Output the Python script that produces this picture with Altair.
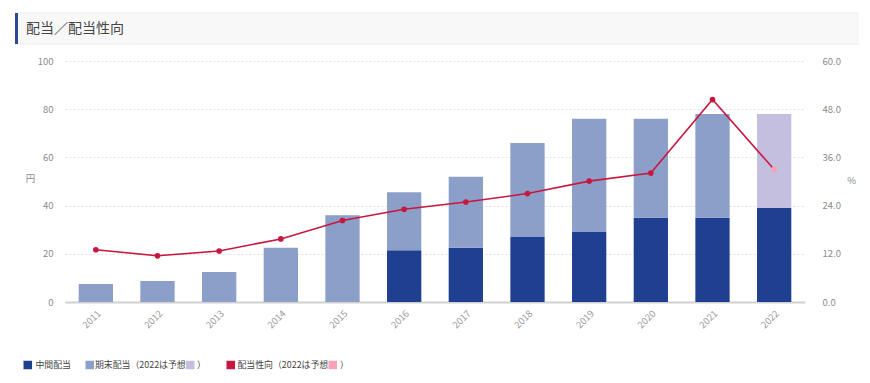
import altair as alt
import pandas as pd

# ---- data ----
years = [str(y) for y in range(2011, 2023)]
interim = [0, 0, 0, 0, 0, 21.5, 22.5, 27, 29, 35, 35, 39]          # 中間配当 (円)
year_end = [7.5, 8.75, 12.5, 22.5, 36, 24, 29.5, 39, 47, 41, 43, 39]  # 期末配当 (円)
payout = [13.0, 11.5, 12.7, 15.7, 20.3, 23.1, 24.9, 27.0, 30.1, 32.1, 50.4, 33.0]  # 配当性向 (%)
forecast_year = "2022"
left_ticks = [0, 20, 40, 60, 80, 100]
right_ticks = [0, 12, 24, 36, 48, 60]

FONT = "Noto Sans CJK JP"
C_INTERIM = "#1f3f91"
C_YEAREND = "#8c9fc9"
C_FORECAST = "#c4bfdf"
C_LINE = "#c8173f"
C_PINK = "#f6a3b8"
C_LABEL = "#8a8a8a"

rows = []
for y, a, b in zip(years, interim, year_end):
    rows.append({"year": y, "kind": "中間配当", "value": a, "ord": 0})
    rows.append({"year": y, "kind": "期末配当（予想）" if y == forecast_year else "期末配当",
                 "value": b, "ord": 1})
bars_df = pd.DataFrame(rows)
line_df = pd.DataFrame({"year": years, "payout": payout})

x_enc = alt.X(
    "year:N", sort=years,
    scale=alt.Scale(paddingInner=0.444, paddingOuter=0.222),
    axis=alt.Axis(title=None, labelAngle=-45, labelColor="#999999", labelFontSize=9.5,
                  labelFont=FONT, labelPadding=6, ticks=False, domainColor="#d0d0d0",
                  domainWidth=2, grid=False),
)

bars = alt.Chart(bars_df).mark_bar().encode(
    x=x_enc,
    y=alt.Y("value:Q", stack="zero", scale=alt.Scale(domain=[0, 100]),
            axis=alt.Axis(values=left_ticks, title="円", titleAngle=0, titleX=-35, titleY=117,
                          titleAlign="center", titleBaseline="middle", titleFont=FONT,
                          titleFontSize=9.5, titleFontWeight="normal", titleColor=C_LABEL,
                          grid=True, gridDash=[2, 2], gridColor="#e0e0e0", domain=False,
                          ticks=False, labelPadding=12, labelColor=C_LABEL, labelFontSize=9.5,
                          labelFont=FONT)),
    color=alt.Color("kind:N",
                    scale=alt.Scale(domain=["中間配当", "期末配当", "期末配当（予想）"],
                                    range=[C_INTERIM, C_YEAREND, C_FORECAST]),
                    legend=None),
    order=alt.Order("ord:Q", sort="ascending"),
)

y_right = alt.Y("payout:Q", scale=alt.Scale(domain=[0, 60]),
                axis=alt.Axis(orient="right", values=right_ticks, format=".1f", title="%",
                              titleAngle=0, titleX=46, titleY=119, titleAlign="center",
                              titleBaseline="middle", titleFont=FONT, titleFontSize=9.5,
                              titleFontWeight="normal", titleColor=C_LABEL, grid=False,
                              domain=False, ticks=False, labelPadding=17, labelColor=C_LABEL,
                              labelFontSize=9.5, labelFont=FONT))

line = alt.Chart(line_df).mark_line(color=C_LINE, strokeWidth=1.6).encode(x=x_enc, y=y_right)
points = alt.Chart(line_df).mark_point(filled=True, size=32, opacity=1).encode(
    x=x_enc, y=y_right,
    color=alt.condition(alt.datum.year == forecast_year, alt.value(C_PINK), alt.value(C_LINE)),
)
ratio = alt.layer(line, points)

# ---- decorations: heading bar and hand-made legend ----
one = pd.DataFrame({"k": [0]})


def box(x1, x2, y1, y2, color):
    return alt.Chart(one).mark_rect(color=color).encode(
        x=alt.value(x1), x2=alt.value(x2), y=alt.value(y1), y2=alt.value(y2))


def hline(x1, x2, y, color):
    return alt.Chart(one).mark_rule(color=color, strokeWidth=1).encode(
        x=alt.value(x1), x2=alt.value(x2), y=alt.value(y))


def label(x, y, s, size, color):
    return alt.Chart(one).mark_text(align="left", baseline="middle", font=FONT,
                                    fontSize=size, color=color).encode(
        x=alt.value(x), y=alt.value(y), text=alt.value(s))


LY = 304
LS = 8.9
deco = [
    box(-50, 794, -48, -17, "#f8f8f8"),
    hline(-50, 794, -48, "#ececec"),
    hline(-50, 794, -17, "#ececec"),
    box(-50, -47, -48, -17, "#2b4896"),
    label(-39, -32, "配当／配当性向", 14, "#444444"),
    box(-41.5, -33, LY - 4.25, LY + 4.25, C_INTERIM),
    label(-29.5, LY, "中間配当", LS, "#444444"),
    box(20.5, 29, LY - 4.25, LY + 4.25, C_YEAREND),
    label(30, LY, "期末配当（2022は予想", LS, "#444444"),
    box(121, 129.5, LY - 4.25, LY + 4.25, C_FORECAST),
    label(132, LY, "）", LS, "#444444"),
    box(161.5, 170, LY - 4.25, LY + 4.25, C_LINE),
    label(172.5, LY, "配当性向（2022は予想", LS, "#444444"),
    box(263.5, 272, LY - 4.25, LY + 4.25, C_PINK),
    label(275, LY, "）", LS, "#444444"),
]

chart = alt.layer(bars, ratio, *deco).resolve_scale(y="independent").properties(
    width=740, height=241,
    padding={"left": 57, "top": 53, "right": 57, "bottom": 73},
    autosize=alt.AutoSizeParams(type="none"),
).configure_view(stroke=None)

chart.save("out.html", embed_options={"renderer": "svg", "actions": False})
